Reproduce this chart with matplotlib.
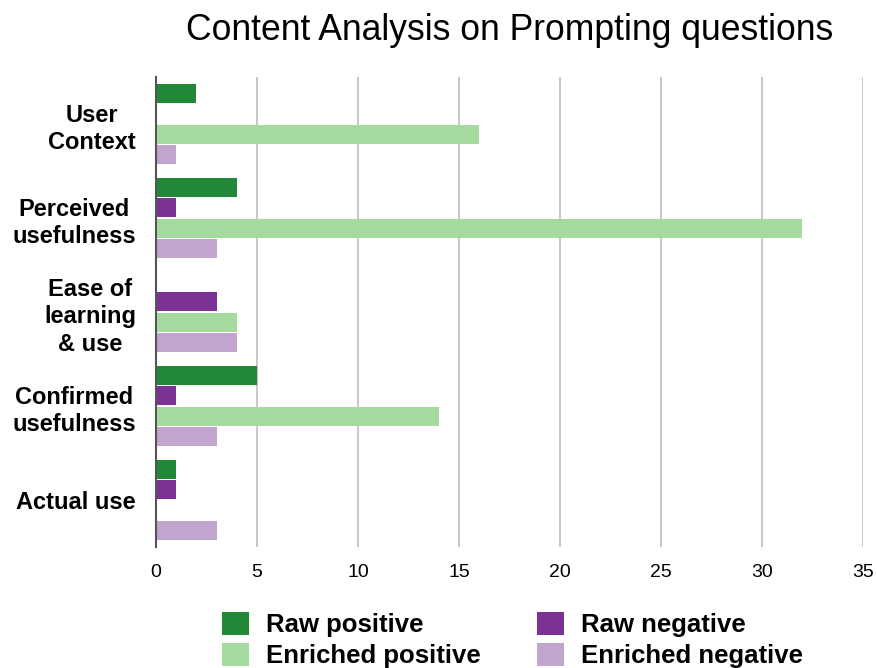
import matplotlib
matplotlib.use("Agg")
import matplotlib.pyplot as plt
import numpy as np
from matplotlib.patches import Patch

categories = ["User\nContext", "Perceived\nusefulness", "Ease of\nlearning\n& use",
              "Confirmed\nusefulness", "Actual use"]
series_names = ["Raw positive", "Raw negative", "Enriched positive", "Enriched negative"]
raw_positive = [2, 4, 0, 5, 1]
raw_negative = [0, 1, 3, 1, 1]
enriched_positive = [16, 32, 4, 14, 0]
enriched_negative = [1, 3, 4, 3, 3]
x_ticks = [0, 5, 10, 15, 20, 25, 30, 35]

colors = ["#218838", "#7b3294", "#a6dba0", "#c2a5cf"]
series = [raw_positive, raw_negative, enriched_positive, enriched_negative]

plt.rcParams["font.family"] = ["Liberation Sans", "DejaVu Sans"]

fig = plt.figure(figsize=(8.77, 6.68), dpi=100)
ax_left, ax_right, ax_top, ax_bottom = 156, 863, 77, 547
ax = fig.add_axes([ax_left / 877, 1 - ax_bottom / 668,
                   (ax_right - ax_left) / 877, (ax_bottom - ax_top) / 668])

y = np.arange(len(categories))
pitch = 0.216
height = 0.2
offsets = (np.arange(4) - 1.5) * pitch
for vals, off, col in zip(series, offsets, colors):
    ax.barh(y + off, vals, height=height, color=col, zorder=3)

ax.set_ylim(len(categories) - 0.5, -0.5)
ax.set_xlim(0, 35)
ax.set_xticks(x_ticks)
ax.set_xticklabels([str(t) for t in x_ticks], fontsize=14)
ax.set_yticks(y)
ax.set_yticklabels(categories, fontsize=17, fontweight="bold",
                   multialignment="center", linespacing=1.25)
ax.tick_params(axis="both", length=0)
ax.tick_params(axis="x", pad=12)
ax.tick_params(axis="y", pad=14.4)

ax.grid(axis="x", color="#c8c8c8", linewidth=1.4, zorder=0)
ax.grid(axis="y", visible=False)
for s in ["top", "right", "bottom"]:
    ax.spines[s].set_visible(False)
ax.spines["left"].set_color("#555555")
ax.spines["left"].set_linewidth(1.5)
ax.spines["left"].set_zorder(4)

center_x = (ax_left + ax_right) / 2 / 877
fig.text(center_x, 1 - 30 / 668, "Content Analysis on Prompting questions",
         ha="center", va="center", fontsize=25.6)

order = [0, 2, 1, 3]
handles = [Patch(facecolor=colors[i], edgecolor="none") for i in order]
labels = [series_names[i] for i in order]
fig.legend(handles, labels, ncol=2, loc="center",
           bbox_to_anchor=(center_x + 3 / 877, 1 - 640 / 668),
           frameon=False, prop={"size": 18.5, "weight": "bold"},
           handlelength=1.05, handleheight=1.0, handletextpad=0.66,
           columnspacing=2.2, labelspacing=0.2, borderpad=0, borderaxespad=0)

fig.savefig("out.png", dpi=100)
